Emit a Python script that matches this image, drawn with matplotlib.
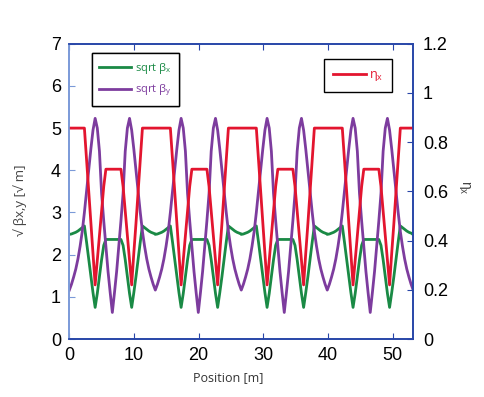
import matplotlib
matplotlib.use("Agg")
import matplotlib.pyplot as plt
import numpy as np

plt.rcParams['font.family'] = ['Liberation Sans', 'DejaVu Sans']

# one half cell of the lattice (0 .. 13.3 m)
half_len = 13.3
n_cells = 4
s_half = np.arange(41) * 0.3325

# sqrt(beta_x) [sqrt(m)]
sqbx_half = [2.48, 2.49, 2.51, 2.53, 2.56, 2.60, 2.64, 2.68, 2.30, 1.90, 1.48,
             1.10, 0.75, 1.08, 1.48, 1.88, 2.22, 2.36, 2.36, 2.36, 2.36,
             2.36, 2.36, 2.36, 2.36, 2.22, 1.88, 1.48, 1.08, 0.75, 1.10,
             1.48, 1.90, 2.30, 2.68, 2.64, 2.60, 2.56, 2.53, 2.51, 2.49]
# sqrt(beta_y) [sqrt(m)]
sqby_half = [1.16, 1.30, 1.47, 1.66, 1.90, 2.20, 2.55, 3.00, 3.50, 4.00, 4.50,
             4.95, 5.23, 5.00, 4.45, 3.45, 2.80, 2.20, 1.60, 1.10, 0.63,
             1.10, 1.60, 2.20, 2.80, 3.45, 4.45, 5.00, 5.23, 4.95, 4.50,
             4.00, 3.50, 3.00, 2.55, 2.20, 1.90, 1.66, 1.47, 1.30, 1.16]
# eta_x [m]
eta_half = [0.857, 0.857, 0.857, 0.857, 0.857, 0.857, 0.857, 0.857, 0.73, 0.60, 0.47,
            0.35, 0.22, 0.32, 0.42, 0.52, 0.62, 0.69, 0.69, 0.69, 0.69,
            0.69, 0.69, 0.69, 0.69, 0.62, 0.52, 0.42, 0.32, 0.22, 0.35,
            0.47, 0.60, 0.73, 0.857, 0.857, 0.857, 0.857, 0.857, 0.857, 0.857]

# repeat the half cell along the section
s = np.concatenate([s_half + k * half_len for k in range(n_cells)] + [[n_cells * half_len]])
sqbx = np.concatenate([np.tile(sqbx_half, n_cells), [sqbx_half[0]]])
sqby = np.concatenate([np.tile(sqby_half, n_cells), [sqby_half[0]]])
eta = np.concatenate([np.tile(eta_half, n_cells), [eta_half[0]]])

green = '#1a8a45'
purple = '#7d3c9e'
red = '#e3152f'
spine_blue = '#2846a8'

fig = plt.figure(figsize=(4.85, 3.97), dpi=100)
ax = fig.add_axes([0.143, 0.146, 0.709, 0.744])
ax2 = ax.twinx()

l1, = ax.plot(s, sqbx, color=green, lw=2.0, label='sqrt β$_\\mathregular{x}$')
l2, = ax.plot(s, sqby, color=purple, lw=2.0, label='sqrt β$_\\mathregular{y}$')
l3, = ax2.plot(s, eta, color=red, lw=2.0, label='η$_\\mathregular{x}$')

ax.set_xlim(0, 53.2)
ax.set_ylim(0, 7)
ax2.set_ylim(0, 1.2)

ax.set_xticks([0, 10, 20, 30, 40, 50])
ax.set_yticks(range(8))
ax2.set_yticks([0, 0.2, 0.4, 0.6, 0.8, 1.0, 1.2])
ax2.set_yticklabels(['0', '0.2', '0.4', '0.6', '0.8', '1', '1.2'])

ax.tick_params(axis='both', direction='in', labelsize=13, length=4, color=spine_blue, top=True)
ax.tick_params(axis='y', pad=6, color='#7b9ad8')
ax.tick_params(axis='x', pad=6)
ax2.tick_params(axis='y', direction='in', labelsize=13, length=4, color=spine_blue, pad=7)

for a in (ax, ax2):
    for side in ('top', 'bottom', 'right'):
        a.spines[side].set_color(spine_blue)
    a.spines['left'].set_color('#7b9ad8')
    for sp in a.spines.values():
        sp.set_linewidth(1.2)

fig.text(0.042, 0.495, '√ βx,y [√ m]', rotation=90, ha='center', va='center',
         fontsize=9.5, color='#444444', family=['Open Sans', 'DejaVu Sans'])
fig.text(0.958, 0.527, 'η$_\\mathregular{x}$', rotation=270, ha='center', va='center',
         fontsize=10, color='#444444')
fig.text(0.47, 0.05, 'Position [m]', ha='center', va='center',
         fontsize=9, color='#333333', family=['Open Sans', 'DejaVu Sans'])

leg1 = ax.legend(handles=[l1, l2], loc='upper left',
                 bbox_to_anchor=(91.7 / 485, 1 - 53.3 / 397), bbox_transform=fig.transFigure,
                 borderaxespad=0, handlelength=2.8, handletextpad=0.4, borderpad=0.7,
                 labelspacing=0.6, fancybox=False, framealpha=1, edgecolor='black',
                 labelcolor='linecolor', prop={'family': ['Open Sans', 'DejaVu Sans'], 'size': 8})
leg1.get_frame().set_linewidth(1.0)
ax.add_artist(leg1)

leg2 = ax2.legend(handles=[l3], loc='upper left',
                  bbox_to_anchor=(324.3 / 485, 1 - 59.3 / 397), bbox_transform=fig.transFigure,
                  borderaxespad=0, handlelength=2.6, handletextpad=0.3, borderpad=0.7,
                  fancybox=False, framealpha=1, edgecolor='black',
                  labelcolor='linecolor', prop={'family': ['Open Sans', 'DejaVu Sans'], 'size': 9})
leg2.get_frame().set_linewidth(1.0)

fig.savefig('out.png', dpi=100)
